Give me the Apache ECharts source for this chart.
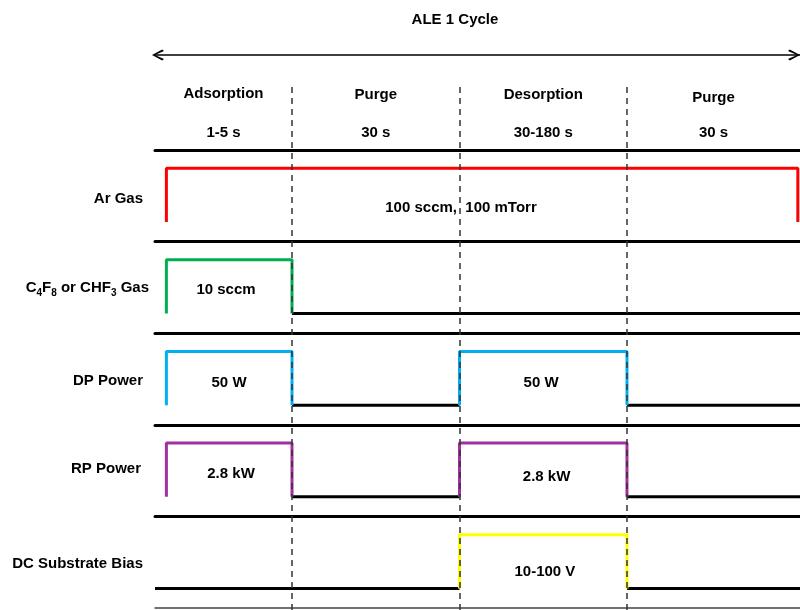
<!DOCTYPE html>
<html>
<head>
<meta charset="utf-8">
<script src="https://cdn.jsdelivr.net/npm/echarts@6/dist/echarts.min.js"></script>
<style>html,body{margin:0;padding:0;background:#fff;}#chart{width:800px;height:610px;}</style>
</head>
<body>
<div id="chart"></div>
<script>
// ---------- data ----------
const cycleTitle = 'ALE 1 Cycle';
const phaseNames = ['Adsorption', 'Purge', 'Desorption', 'Purge'];
const phaseDurations = ['1-5 s', '30 s', '30-180 s', '30 s'];
const phaseEdges = [10, 20, 30];           // boundaries between phases (diagram units)
const rowNames = ['Ar Gas', 'C4F8 or CHF3 Gas', 'DP Power', 'RP Power', 'DC Substrate Bias'];
const arStates   = [1, 1, 1, 1];
const c4f8States = [1, 0, 0, 0];
const dpStates   = [1, 0, 1, 0];
const rpStates   = [1, 0, 1, 0];
const dcStates   = [0, 0, 1, 0];
const arLabels   = ['100 sccm,  100 mTorr'];
const c4f8Labels = ['10 sccm'];
const dpLabels   = ['50 W', '50 W'];
const rpLabels   = ['2.8 kW', '2.8 kW'];
const dcLabels   = ['10-100 V'];

// ---------- layout ----------
const XMIN = 1.82, XMAX = 40.33, SIG_START = 2.5, SIG_END = 40.2, ARROW_START = 1.64;
const LANE_TOP = 150, LANE_H = 91.6;
const colors = ['#ff0000', '#00b050', '#00b0f0', '#a0309f', '#ffff00'];
const laneStates = [arStates, c4f8States, dpStates, rpStates, dcStates];
const laneLabels = [arLabels, c4f8Labels, dpLabels, rpLabels, dcLabels];
const labelX = [[20.09], [6.06], [6.24, 24.87], [6.36, 25.2], [25.1]];
const labelY = [[0.263], [0.443], [0.413, 0.413], [0.423, 0.373], [0.303]];
const nameGaps = [12, 6, 12, 14, 12];
const nameOffsetY = [3, 0, 2, -2, 2];
const FONT = "'Liberation Sans', Arial, sans-serif";
const txt = {fontFamily: FONT, fontWeight: 'bold', fontSize: 15, color: '#000'};

const spans = [XMIN].concat(phaseEdges, [XMAX]);

const grids = [], xAxes = [], yAxes = [], series = [];
const hidden = {axisLine: {show: false}, axisTick: {show: false}, axisLabel: {show: false}, splitLine: {show: false}};
const invisible = {color: 'rgba(0,0,0,0)', opacity: 1};

for (let i = 0; i < 5; i++) {
  grids.push({left: 155, right: 0, top: LANE_TOP + i * LANE_H, height: LANE_H});
  xAxes.push(Object.assign({}, hidden, {gridIndex: i, type: 'value', min: XMIN, max: XMAX, position: 'top',
    axisLine: {show: true, onZero: false, lineStyle: {color: '#000', width: 3}}}));
  let name = rowNames[i];
  let rich = {};
  if (i === 1) {
    name = '{n|C}{s|4}{n|F}{s|8}{n| or CHF}{s|3}{n| Gas}';
    rich = {n: Object.assign({}, txt, {lineHeight: 22, verticalAlign: 'middle'}),
            s: Object.assign({}, txt, {fontSize: 10, verticalAlign: 'bottom'})};
  }
  yAxes.push(Object.assign({}, hidden, {gridIndex: i, type: 'value', min: -0.365, max: 1.34,
    name: name, nameLocation: 'middle', nameRotate: 0, nameGap: nameGaps[i],
    nameTextStyle: Object.assign({}, txt, {align: 'right', verticalAlign: 'middle', rich: rich,
      padding: nameOffsetY[i] >= 0 ? [nameOffsetY[i] * 2, 0, 0, 0] : [0, 0, -nameOffsetY[i] * 2, 0]})}));

  // build signal segments
  const st = laneStates[i];
  let p = 0;
  while (p < st.length) {
    let q = p;
    while (q + 1 < st.length && st[q + 1] === st[p]) q++;
    const on = st[p] === 1;
    const s = p === 0 ? (on ? SIG_START : XMIN) : spans[p];
    const e = q === st.length - 1 ? (on ? SIG_END : XMAX) : spans[q + 1];
    const data = on ? [[s, 0], [s, 1], [e, 1], [e, 0]] : [[s, 0], [e, 0]];
    series.push({type: 'line', xAxisIndex: i, yAxisIndex: i, data: data, symbol: 'none', silent: true,
      lineStyle: {color: on ? colors[i] : '#000', width: 3}, z: on ? 3 : 2, animation: false});
    p = q + 1;
  }
  // value labels
  series.push({type: 'scatter', xAxisIndex: i, yAxisIndex: i, symbolSize: 1, itemStyle: invisible,
    silent: true, animation: false, z: 5,
    data: laneLabels[i].map((t, k) => ({value: [labelX[i][k], labelY[i][k]], name: t})),
    label: Object.assign({show: true, position: 'inside', formatter: d => d.name}, txt)});
}

// header grid (index 5)
grids.push({left: 155, right: 0, top: 0, height: 150});
xAxes.push(Object.assign({}, hidden, {gridIndex: 5, type: 'value', min: XMIN, max: XMAX}));
yAxes.push(Object.assign({}, hidden, {gridIndex: 5, type: 'value', min: 0, max: 150, inverse: true}));
const nameY = [94, 95, 95, 98];
const headerData = [{value: [19.73, 20], name: cycleTitle}];
phaseNames.forEach((n, k) => headerData.push({value: [(spans[k] + spans[k + 1]) / 2, nameY[k]], name: n}));
phaseDurations.forEach((n, k) => headerData.push({value: [(spans[k] + spans[k + 1]) / 2, 133], name: n}));
series.push({type: 'scatter', xAxisIndex: 5, yAxisIndex: 5, symbolSize: 1, itemStyle: invisible,
  silent: true, animation: false, data: headerData,
  label: Object.assign({show: true, position: 'inside', formatter: d => d.name}, txt)});
// arrow shaft
series.push({type: 'line', xAxisIndex: 5, yAxisIndex: 5, clip: false, symbol: 'none', silent: true, animation: false,
  data: [[ARROW_START, 55], [XMAX, 55]], lineStyle: {color: '#000', width: 1.5}});
// arrow heads
const leftHead = 'path://M9,0 L10.5,1.3 L2.6,5 L10.5,8.7 L9,10 L0,5 Z';
const rightHead = 'path://M1.5,0 L0,1.3 L7.9,5 L0,8.7 L1.5,10 L10.5,5 Z';
series.push({type: 'scatter', xAxisIndex: 5, yAxisIndex: 5, clip: false, silent: true, animation: false,
  itemStyle: {color: '#000', opacity: 1},
  data: [
    {value: [ARROW_START, 55], symbol: leftHead, symbolSize: [12, 11], symbolOffset: ['50%', 0]},
    {value: [XMAX, 55], symbol: rightHead, symbolSize: [12, 11], symbolOffset: ['-50%', 0]}
  ]});

// dashed overlay grid (index 6)
grids.push({left: 155, right: 0, top: 84, height: 526});
xAxes.push(Object.assign({}, hidden, {gridIndex: 6, type: 'value', min: XMIN, max: XMAX}));
yAxes.push(Object.assign({}, hidden, {gridIndex: 6, type: 'value', min: 0, max: 1}));
series.push({type: 'scatter', xAxisIndex: 6, yAxisIndex: 6, symbolSize: 0, data: [[XMIN, 0]], silent: true, z: 1,
  animation: false,
  markLine: {silent: true, animation: false, symbol: 'none', label: {show: false},
    lineStyle: {color: '#333', width: 1.5, type: [6, 5]},
    data: phaseEdges.map(v => ({xAxis: v}))}});

// bottom thin line for the last lane (xAxis index 7 on grid 4)
xAxes.push(Object.assign({}, hidden, {gridIndex: 4, type: 'value', min: XMIN, max: XMAX, position: 'bottom',
  axisLine: {show: true, onZero: false, lineStyle: {color: '#444', width: 1.5}}}));

const chart = echarts.init(document.getElementById('chart'));
chart.setOption({animation: false, backgroundColor: '#fff', grid: grids, xAxis: xAxes, yAxis: yAxes, series: series});
</script>
</body>
</html>
